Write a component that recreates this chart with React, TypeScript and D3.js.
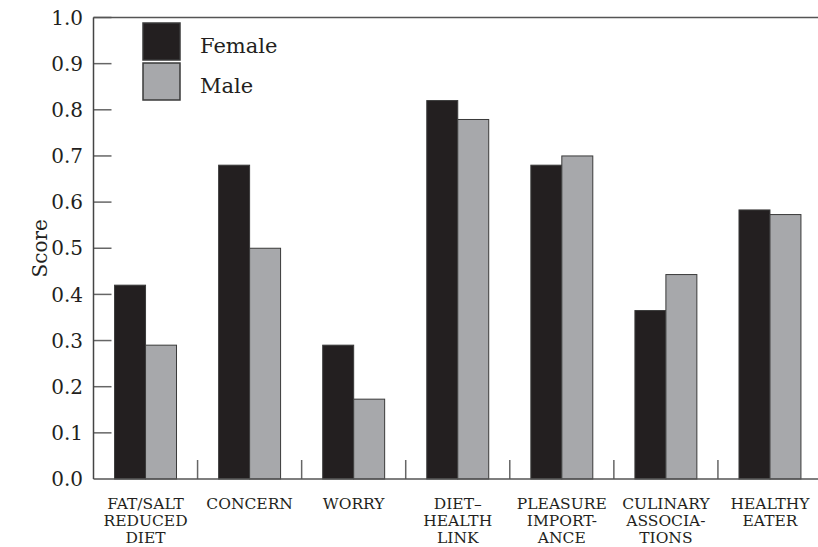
import React, { useEffect, useRef } from 'react';
import * as d3 from 'd3';

const categories = [
  ['FAT/SALT', 'REDUCED', 'DIET'],
  ['CONCERN'],
  ['WORRY'],
  ['DIET–', 'HEALTH', 'LINK'],
  ['PLEASURE', 'IMPORT-', 'ANCE'],
  ['CULINARY', 'ASSOCIA-', 'TIONS'],
  ['HEALTHY', 'EATER'],
];
const female = [0.42, 0.68, 0.29, 0.82, 0.68, 0.365, 0.583];
const male = [0.29, 0.5, 0.173, 0.779, 0.7, 0.443, 0.573];
const seriesNames = ['Female', 'Male'];
const yTicks = [0, 0.1, 0.2, 0.3, 0.4, 0.5, 0.6, 0.7, 0.8, 0.9, 1.0];

const colors: Record<string, string> = { Female: '#231f20', Male: '#a7a8ab' };
const FONT = '"DejaVu Serif", serif';

const App = () => {
  const ref = useRef<SVGSVGElement>(null);

  useEffect(() => {
    const svg = d3.select(ref.current);
    svg.selectAll('*').remove();

    const left = 93.5;
    const right = 822;
    const top = 17.5;
    const bottom = 479;

    const keys = categories.map((c, i) => String(i));
    const x = d3.scaleBand().domain(keys).range([left, right]).padding(0);
    const x1 = d3.scaleBand().domain(seriesNames).range([0, x.bandwidth()]).paddingInner(0).paddingOuter(0.68);
    const y = d3.scaleLinear().domain([0, 1]).range([bottom, top]);

    const g = svg.append('g');

    // bars
    const rows = keys.map((k, i) => ({ key: k, Female: female[i], Male: male[i] }));
    const groups = g.selectAll('.grp')
      .data(rows)
      .enter().append('g')
      .attr('transform', d => `translate(${x(d.key)},0)`);

    groups.selectAll('rect')
      .data(d => seriesNames.map(s => ({ s, v: (d as any)[s] as number })))
      .enter().append('rect')
      .attr('x', d => x1(d.s)!)
      .attr('y', d => y(d.v))
      .attr('width', x1.bandwidth())
      .attr('height', d => bottom - y(d.v))
      .attr('fill', d => colors[d.s])
      .attr('stroke', '#3a3a3a')
      .attr('stroke-width', 1);

    // y axis ticks (inside)
    g.selectAll('.ytick')
      .data(yTicks.filter(t => t > 0))
      .enter().append('line')
      .attr('x1', left)
      .attr('x2', left + 18)
      .attr('y1', d => y(d))
      .attr('y2', d => y(d))
      .attr('stroke', '#666')
      .attr('stroke-width', 1.5);

    g.selectAll('.ylabel')
      .data(yTicks)
      .enter().append('text')
      .attr('x', 83)
      .attr('y', d => y(d))
      .attr('dy', '0.36em')
      .attr('text-anchor', 'end')
      .attr('font-family', FONT)
      .attr('font-size', 20)
      .attr('fill', '#231f20')
      .text(d => d3.format('.1f')(d));

    // group dividers
    g.selectAll('.div')
      .data(keys.slice(1))
      .enter().append('line')
      .attr('x1', d => x(d)!)
      .attr('x2', d => x(d)!)
      .attr('y1', bottom - 19)
      .attr('y2', bottom)
      .attr('stroke', '#666')
      .attr('stroke-width', 1.5);

    // frame
    g.append('line').attr('x1', left).attr('x2', 818).attr('y1', top).attr('y2', top)
      .attr('stroke', '#555').attr('stroke-width', 1.5);
    g.append('line').attr('x1', left).attr('x2', 818).attr('y1', bottom).attr('y2', bottom)
      .attr('stroke', '#555').attr('stroke-width', 1.5);
    g.append('line').attr('x1', left).attr('x2', left).attr('y1', top).attr('y2', bottom)
      .attr('stroke', '#444').attr('stroke-width', 1.5);

    // category labels
    const cat = g.selectAll('.cat')
      .data(categories)
      .enter().append('text')
      .attr('text-anchor', 'middle')
      .attr('font-family', FONT)
      .attr('font-size', 15.5)
      .attr('fill', '#231f20');
    cat.each(function (d, i) {
      const t = d3.select(this);
      d.forEach((line, j) => {
        t.append('tspan')
          .attr('x', x(keys[i])! + x.bandwidth() / 2)
          .attr('y', 509 + j * 17)
          .text(line);
      });
    });

    // y title
    g.append('text')
      .attr('transform', `translate(47,${(top + bottom) / 2}) rotate(-90)`)
      .attr('text-anchor', 'middle')
      .attr('font-family', FONT)
      .attr('font-size', 20)
      .attr('fill', '#231f20')
      .text('Score');

    // legend
    const legend = g.selectAll('.leg')
      .data(seriesNames)
      .enter().append('g')
      .attr('transform', (d, i) => `translate(143,${23 + i * 40})`);
    legend.append('rect')
      .attr('width', 37)
      .attr('height', 37)
      .attr('fill', d => colors[d])
      .attr('stroke', '#3a3a3a')
      .attr('stroke-width', 1.5);
    legend.append('text')
      .attr('x', 57)
      .attr('y', 30)
      .attr('font-family', FONT)
      .attr('font-size', 21)
      .attr('fill', '#231f20')
      .text(d => d);
  }, []);

  return (
    <svg
      ref={ref}
      width={818}
      height={547}
      style={{ position: 'absolute', left: 0, top: 0, background: '#fff' }}
    />
  );
};

export default App;
